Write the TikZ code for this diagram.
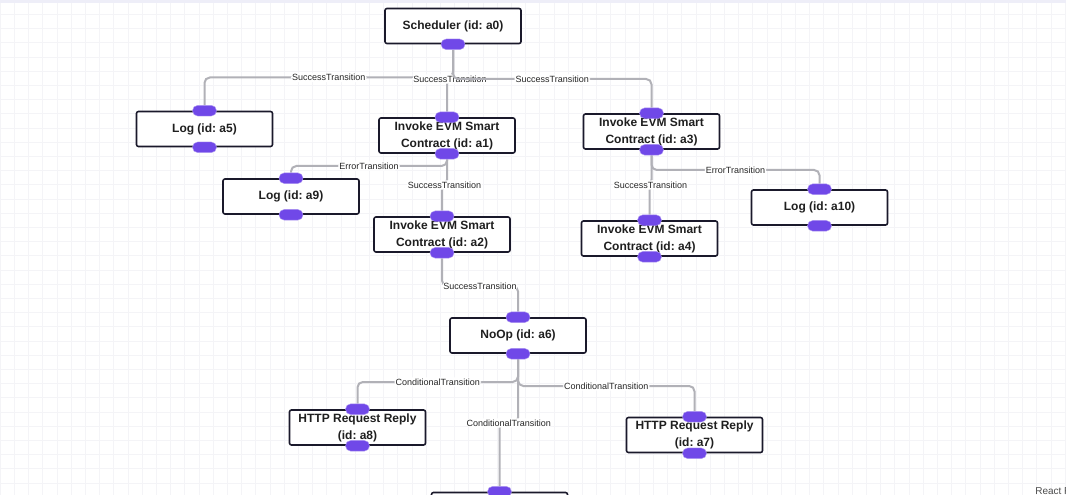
\documentclass[tikz,border=0pt]{standalone}
\usepackage{fontspec}
\setmainfont{Liberation Sans}
\usepackage{xcolor}
\usetikzlibrary{calc, backgrounds}
\definecolor{ink}{RGB}{26, 25, 43}
\definecolor{handle}{RGB}{112, 72, 232}
\definecolor{wire}{RGB}{177, 177, 183}
\definecolor{gridline}{RGB}{244, 244, 247}
\definecolor{topbar}{RGB}{238, 238, 248}
\pgfdeclarelayer{edges}
\pgfsetlayers{background,edges,main}
\frenchspacing

\begin{document}
\begin{tikzpicture}[
    x=0.75pt, y=-0.75pt,
    block/.style={rectangle, draw=ink, fill=white, line width=1.2pt, rounded corners=1.5pt, minimum width=102pt, minimum height=26.25pt, inner sep=0pt, align=center, text=black!88, font=\bfseries\fontsize{9}{12.75}\selectfont},
    port/.style={rectangle, rounded corners=3.9pt, fill=handle, draw=handle!55, line width=0.3pt, minimum width=18pt, minimum height=8pt, inner sep=0pt},
    wire/.style={draw=wire, line width=1.5pt, rounded corners=4pt},
    tag/.style={fill=white, inner sep=1pt, text=black!85, font=\fontsize{6.75}{8}\selectfont}
]
    \useasboundingbox (0,0) rectangle (1066,495);

    % Canvas
    \begin{pgfonlayer}{background}
        \fill[white] (0,0) rectangle (1066,495);
        \draw[gridline, line width=0.4pt, step=10.65pt] (0,0) grid (1066,495);
        \fill[topbar] (0,0) rectangle (1066,3);
    \end{pgfonlayer}

    % Action Nodes
    \node[block] (a0) at (453,26) {Scheduler (id: a0)};
    \node[block] (a5) at (204.5,129) {Log (id: a5)};
    \node[block] (a1) at (447,135.5) {Invoke EVM Smart\\Contract (id: a1)};
    \node[block] (a3) at (651.5,131.5) {Invoke EVM Smart\\Contract (id: a3)};
    \node[block] (a9) at (291,196.5) {Log (id: a9)};
    \node[block] (a2) at (442,234.5) {Invoke EVM Smart\\Contract (id: a2)};
    \node[block] (a4) at (649.5,238.5) {Invoke EVM Smart\\Contract (id: a4)};
    \node[block] (a10) at (819.5,207.5) {Log (id: a10)};
    \node[block] (a6) at (518,335.5) {NoOp (id: a6)};
    \node[block] (a8) at (357.5,427.5) {HTTP Request Reply\\(id: a8)};
    \node[block] (a7) at (694.5,435) {HTTP Request Reply\\(id: a7)};
    \node[block] (next) at (499.5,510) {};

    % Handles
    \node[port] (a0bot) at (a0.south) {};
    \foreach \n in {a5, a1, a3, a9, a2, a4, a10, a6, a8, a7} {
        \node[port] (\n top) at (\n.north) {};
        \node[port] (\n bot) at (\n.south) {};
    }
    \node[port] (nexttop) at (next.north) {};

    % Transitions
    \begin{pgfonlayer}{edges}
        \draw[wire] (a0bot) |- node[tag, pos=0.75] {SuccessTransition} (a5top |- 0,77.5) -- (a5top);
        \draw[wire] (a0bot) |- node[tag, pos=0.75] {SuccessTransition} (a1top |- 0,79) -- (a1top);
        \draw[wire] (a0bot) |- node[tag, pos=0.75] {SuccessTransition} (a3top |- 0,79) -- (a3top);
        \draw[wire] (a1bot) |- node[tag, pos=0.75] {ErrorTransition} (a9top |- 0,166) -- (a9top);
        \draw[wire] (a1bot) |- node[tag, pos=0.75] {SuccessTransition} (a2top |- 0,185) -- (a2top);
        \draw[wire] (a3bot) |- node[tag, pos=0.75] {ErrorTransition} (a10top |- 0,170) -- (a10top);
        \draw[wire] (a3bot) |- node[tag, pos=0.75] {SuccessTransition} (a4top |- 0,185) -- (a4top);
        \draw[wire] (a2bot) |- node[tag, pos=0.75] {SuccessTransition} (a6top |- 0,286) -- (a6top);
        \draw[wire] (a6bot) |- node[tag, pos=0.75] {ConditionalTransition} (a8top |- 0,382) -- (a8top);
        \draw[wire] (a6bot) |- node[tag, pos=0.75] {ConditionalTransition} (a7top |- 0,386) -- (a7top);
        \draw[wire] (a6bot) |- node[tag, pos=0.75] {ConditionalTransition} (nexttop |- 0,423) -- (nexttop);
    \end{pgfonlayer}

    % Attribution
    \node[anchor=base west, inner sep=0pt, text=black!70, font=\fontsize{7.5}{9}\selectfont] (attrib) at (1035,494) {React Flow};
\end{tikzpicture}
\end{document}
